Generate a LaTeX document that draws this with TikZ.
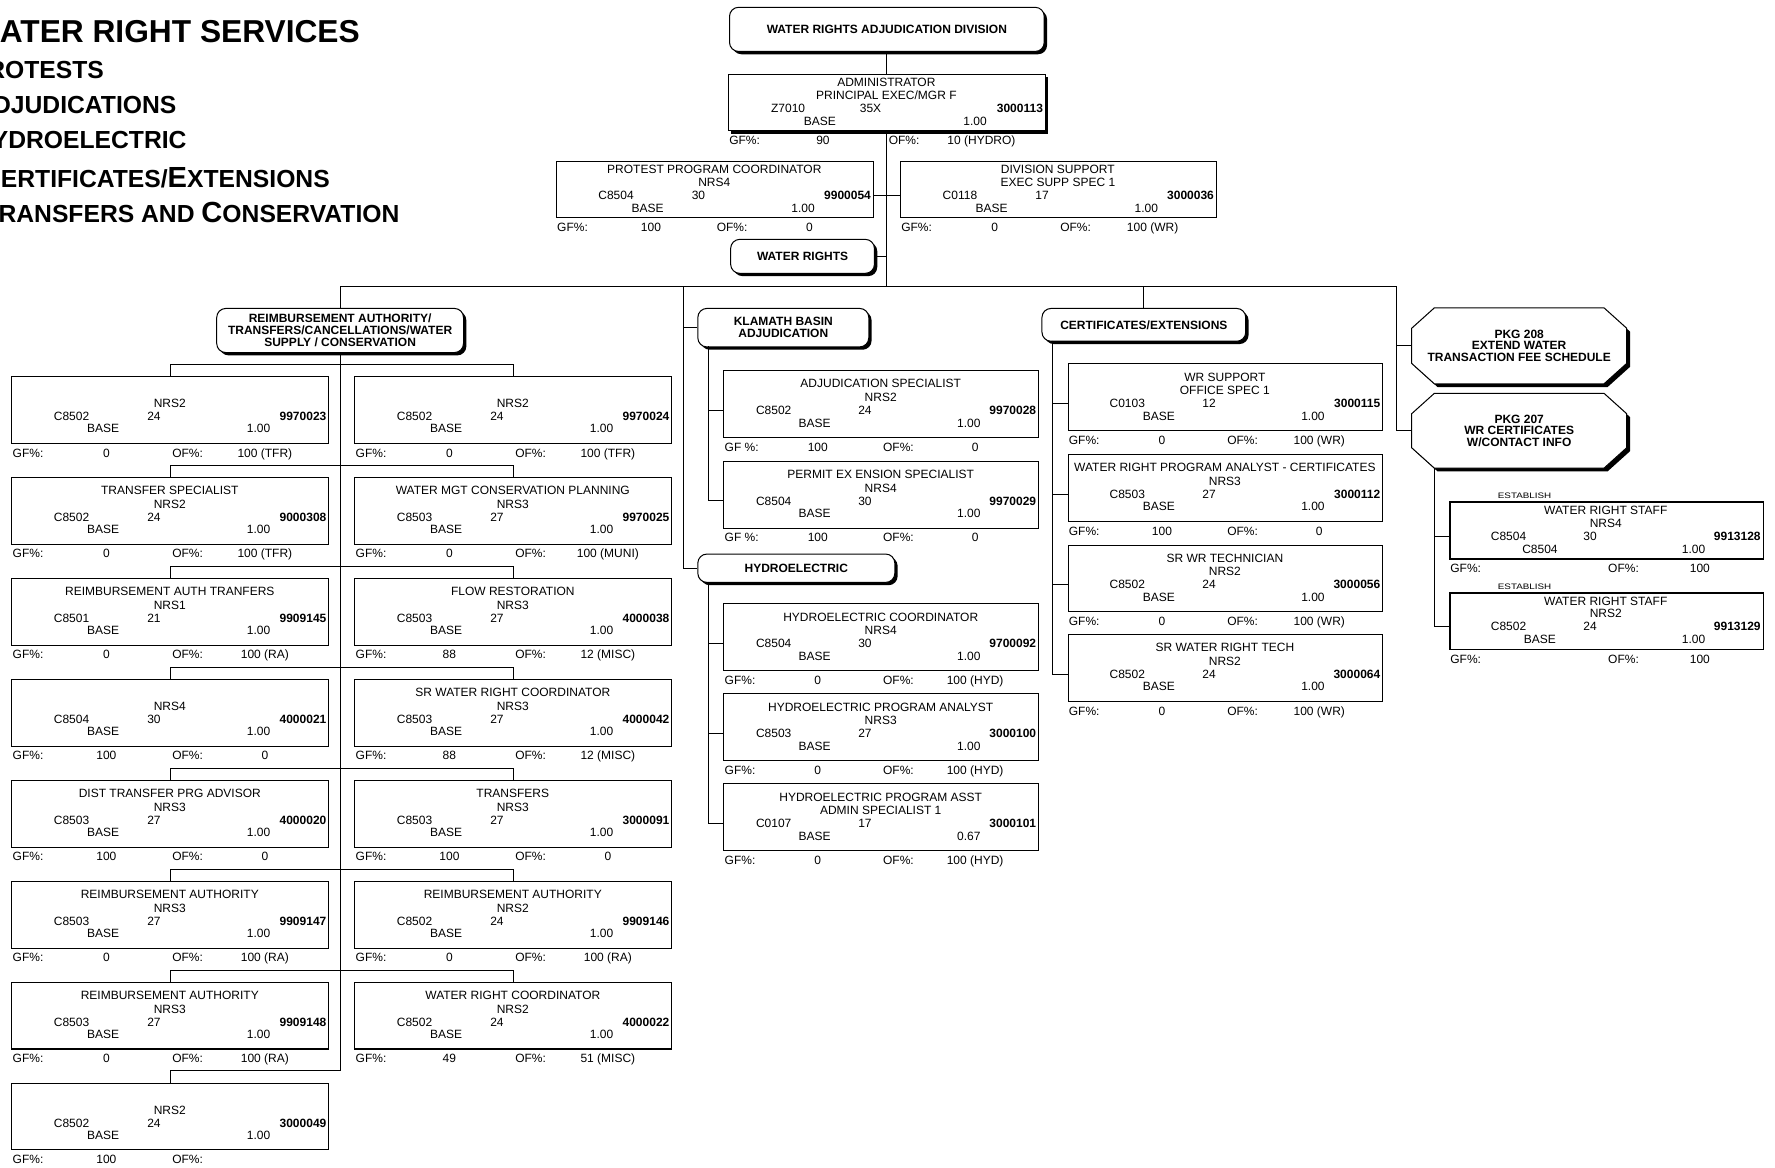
\documentclass[tikz,border=0pt]{standalone}
\usepackage{fontspec}
\setmainfont{Liberation Sans}
\usepackage{graphicx}
\usetikzlibrary{shadows}
\newcommand\tfont{\fontsize{10.6}{10.6}\selectfont}
\newcommand\hfont{\fontsize{10.6}{10.4}\selectfont\bfseries}
\newcommand\bfont{\fontsize{10.6}{10.6}\selectfont\bfseries}
\newcommand\smc[1]{{\fontsize{21.8}{22}\selectfont #1}}
\newcommand\bgc[1]{{\fontsize{25.7}{26}\selectfont #1}}
\def\cf{0.19}
\def\ocx{20}\def\ocy{18}
\newcommand\tallbox{\def\bh{59}\def\la{15.7}\def\lb{27.7}\def\lc{39.2}\def\ld{50.2}\def\lg{71.7}\def\sy{35.5}}
\newcommand\shortbox{\def\bh{50}\def\la{11.7}\def\lb{22.7}\def\lc{34.2}\def\ld{45.7}\def\lg{62.7}\def\sy{30.5}}
\tikzset{
  ln/.style={line width=0.9pt},
  pex/.style={},
  pbox/.style={draw, line width=0.9pt, fill=white, inner sep=0pt, rectangle},
  hdr/.style={draw, line width=0.9pt, fill=white, rounded corners=8pt, inner sep=0pt, align=center, font=\hfont,
    drop shadow={shadow xshift=2.5pt, shadow yshift=-2.5pt, fill=black, opacity=1}},
  txt/.style={inner sep=0pt, font=\tfont},
}
\newcommand\posbox[9]{%
 \xdef\curx{#2}\xdef\cury{#3}\xdef\curw{#4}\xdef\curn{#1}%
 \node[pbox,pex,minimum width=#4pt,minimum height=\bh pt,anchor=north west] (#1) at (#2,#3) {};
 \coordinate (#1-w) at (#2,{#3+\sy});
 \node[txt,anchor=base] (#1-t) at ({#2+0.5*#4},{#3+\la}) {#5};
 \node[txt,anchor=base] (#1-c) at ({#2+0.5*#4},{#3+\lb}) {#6};
 \node[txt,anchor=base] (#1-k) at ({#2+\cf*#4},{#3+\lc}) {#7};
 \node[txt,anchor=base] (#1-g) at ({#2+0.45*#4},{#3+\lc}) {#8};
 \node[txt,anchor=base east,font=\bfont] (#1-n) at ({#2+#4-1.5},{#3+\lc}) {#9};
}
\newcommand\posinfo[5]{%
 \node[txt,anchor=base] (\curn-b) at ({\curx+0.29*\curw},{\cury+\ld}) {#1};
 \node[txt,anchor=base] (\curn-f) at ({\curx+0.78*\curw},{\cury+\ld}) {#2};
 \node[txt,anchor=base west] (\curn-gl) at ({\curx+1},{\cury+\lg}) {#3};
 \node[txt,anchor=base] (\curn-gv) at ({\curx+0.30*\curw},{\cury+\lg}) {#4};
 \node[txt,anchor=base west] (\curn-ol) at ({\curx+0.507*\curw},{\cury+\lg}) {OF\%:};
 \node[txt,anchor=base] (\curn-ov) at ({\curx+0.80*\curw},{\cury+\lg}) {#5};
}
\newcommand\octbox[6]{%
 \fill[shift={(3,3)}] ({#2+\ocx},#3) -- ({#2+#4-\ocx},#3) -- ({#2+#4},{#3+\ocy}) -- ({#2+#4},{#3+#5-\ocy}) -- ({#2+#4-\ocx},{#3+#5}) -- ({#2+\ocx},{#3+#5}) -- (#2,{#3+#5-\ocy}) -- (#2,{#3+\ocy}) -- cycle;
 \filldraw[fill=white,ln] ({#2+\ocx},#3) -- ({#2+#4-\ocx},#3) -- ({#2+#4},{#3+\ocy}) -- ({#2+#4},{#3+#5-\ocy}) -- ({#2+#4-\ocx},{#3+#5}) -- ({#2+\ocx},{#3+#5}) -- (#2,{#3+#5-\ocy}) -- (#2,{#3+\ocy}) -- cycle;
 \node[inner sep=0pt,minimum width=#4pt,minimum height=#5pt,font=\hfont,align=center] (#1) at ({#2+0.5*#4},{#3+0.5*#5}) {#6};
}
\begin{document}
\begin{tikzpicture}[x=1pt,y=-1pt]
\useasboundingbox (0,0) rectangle (1568,1031);
\fill[white] (0,0) rectangle (1568,1031);
\clip (0,0) rectangle (1568,1031);

% title block (cut at the left edge, as in the reference)
\node[inner sep=0pt,anchor=base east,font=\fontsize{28}{28}\selectfont\bfseries] (ttl) at (318,37.4) {W\kern6pt ATER RIGHT SERVICES};
\node[inner sep=0pt,anchor=base east,font=\bfseries] (ti1) at (92,69.2) {\bgc{P}\smc{ROTESTS}};
\node[inner sep=0pt,anchor=base east,font=\bfseries] (ti2) at (156,100.7) {\bgc{A}\smc{DJUDICATIONS}};
\node[inner sep=0pt,anchor=base east,font=\bfseries] (ti3) at (165,131.6) {\bgc{H}\smc{YDROELECTRIC}};
\node[inner sep=0pt,anchor=base east,font=\bfseries] (ti4) at (291.5,165.5) {\bgc{C}\smc{ERTIFICATES/}\bgc{E}\smc{XTENSIONS}};
\node[inner sep=0pt,anchor=base east,font=\bfseries] (ti5) at (353,196.7) {\bgc{T}\smc{RANSFERS AND }\bgc{C}\smc{ONSERVATION}};

% headers
\node[hdr,minimum width=278pt,minimum height=39pt,anchor=north west] (div) at (644,6) {WATER RIGHTS ADJUDICATION DIVISION};
\node[hdr,minimum width=127pt,minimum height=30pt,anchor=north west] (wr) at (645,211) {WATER RIGHTS};
\node[hdr,minimum width=218pt,minimum height=39pt,anchor=north west] (ra) at (191,272) {REIMBURSEMENT AUTHORITY/\\TRANSFERS/CANCELLATIONS/WATER\\SUPPLY / CONSERVATION};
\node[hdr,minimum width=151pt,minimum height=34pt,anchor=north west] (kl) at (616,272) {KLAMATH BASIN\\ADJUDICATION};
\node[hdr,minimum width=174pt,minimum height=25pt,anchor=north west] (hy) at (616,489) {HYDROELECTRIC};
\node[hdr,minimum width=180pt,minimum height=29pt,anchor=north west] (cert) at (920,272) {CERTIFICATES/EXTENSIONS};

% top positions
\shortbox
\tikzset{pex/.style={drop shadow={shadow xshift=2.5pt,shadow yshift=-2.5pt,fill=black,opacity=1}}}
\posbox{admin}{643}{65}{280}{ADMINISTRATOR}{PRINCIPAL EXEC/MGR F}{Z7010}{35X}{3000113}
\posinfo{BASE}{1.00}{GF\%:}{90}{10 (HYDRO)}
\tikzset{pex/.style={}}
\posbox{protest}{491}{142}{280}{PROTEST PROGRAM COORDINATOR}{NRS4}{C8504}{30}{9900054}
\posinfo{BASE}{1.00}{GF\%:}{100}{0}
\posbox{divsup}{795}{142}{279}{DIVISION SUPPORT}{EXEC SUPP SPEC 1}{C0118}{17}{3000036}
\posinfo{BASE}{1.00}{GF\%:}{0}{100 (WR)}

% left column
\tallbox
\posbox{l1}{10}{332}{280}{}{NRS2}{C8502}{24}{9970023}\posinfo{BASE}{1.00}{GF\%:}{0}{100 (TFR)}
\posbox{r1}{313}{332}{280}{}{NRS2}{C8502}{24}{9970024}\posinfo{BASE}{1.00}{GF\%:}{0}{100 (TFR)}
\posbox{l2}{10}{421.2}{280}{TRANSFER SPECIALIST}{NRS2}{C8502}{24}{9000308}\posinfo{BASE}{1.00}{GF\%:}{0}{100 (TFR)}
\posbox{r2}{313}{421.2}{280}{WATER MGT CONSERVATION PLANNING}{NRS3}{C8503}{27}{9970025}\posinfo{BASE}{1.00}{GF\%:}{0}{100 (MUNI)}
\posbox{l3}{10}{510.4}{280}{REIMBURSEMENT AUTH TRANFERS}{NRS1}{C8501}{21}{9909145}\posinfo{BASE}{1.00}{GF\%:}{0}{100 (RA)}
\posbox{r3}{313}{510.4}{280}{FLOW RESTORATION}{NRS3}{C8503}{27}{4000038}\posinfo{BASE}{1.00}{GF\%:}{88}{12 (MISC)}
\posbox{l4}{10}{599.6}{280}{}{NRS4}{C8504}{30}{4000021}\posinfo{BASE}{1.00}{GF\%:}{100}{0}
\posbox{r4}{313}{599.6}{280}{SR WATER RIGHT COORDINATOR}{NRS3}{C8503}{27}{4000042}\posinfo{BASE}{1.00}{GF\%:}{88}{12 (MISC)}
\posbox{l5}{10}{688.8}{280}{DIST TRANSFER PRG ADVISOR}{NRS3}{C8503}{27}{4000020}\posinfo{BASE}{1.00}{GF\%:}{100}{0}
\posbox{r5}{313}{688.8}{280}{TRANSFERS}{NRS3}{C8503}{27}{3000091}\posinfo{BASE}{1.00}{GF\%:}{100}{0}
\posbox{l6}{10}{778}{280}{REIMBURSEMENT AUTHORITY}{NRS3}{C8503}{27}{9909147}\posinfo{BASE}{1.00}{GF\%:}{0}{100 (RA)}
\posbox{r6}{313}{778}{280}{REIMBURSEMENT AUTHORITY}{NRS2}{C8502}{24}{9909146}\posinfo{BASE}{1.00}{GF\%:}{0}{100 (RA)}
\posbox{l7}{10}{867.2}{280}{REIMBURSEMENT AUTHORITY}{NRS3}{C8503}{27}{9909148}\posinfo{BASE}{1.00}{GF\%:}{0}{100 (RA)}
\posbox{r7}{313}{867.2}{280}{WATER RIGHT COORDINATOR}{NRS2}{C8502}{24}{4000022}\posinfo{BASE}{1.00}{GF\%:}{49}{51 (MISC)}
\posbox{l8}{10}{956.4}{280}{}{NRS2}{C8502}{24}{3000049}\posinfo{BASE}{1.00}{GF\%:}{100}{}

% middle column
\def\cf{0.16}
\posbox{adj}{639}{327}{278}{ADJUDICATION SPECIALIST}{NRS2}{C8502}{24}{9970028}\posinfo{BASE}{1.00}{GF \%:}{100}{0}
\posbox{permit}{639}{407}{278}{PERMIT EX ENSION SPECIALIST}{NRS4}{C8504}{30}{9970029}\posinfo{BASE}{1.00}{GF \%:}{100}{0}
\posbox{hc}{639}{533}{278}{HYDROELECTRIC COORDINATOR}{NRS4}{C8504}{30}{9700092}\posinfo{BASE}{1.00}{GF\%:}{0}{100 (HYD)}
\posbox{hpa}{639}{612.5}{278}{HYDROELECTRIC PROGRAM ANALYST}{NRS3}{C8503}{27}{3000100}\posinfo{BASE}{1.00}{GF\%:}{0}{100 (HYD)}
\posbox{hpas}{639}{692}{278}{HYDROELECTRIC PROGRAM ASST}{ADMIN SPECIALIST 1}{C0107}{17}{3000101}\posinfo{BASE}{0.67}{GF\%:}{0}{100 (HYD)}

% certificates column
\def\cf{0.19}
\posbox{wrs}{943}{321}{278}{WR SUPPORT}{OFFICE SPEC 1}{C0103}{12}{3000115}\posinfo{BASE}{1.00}{GF\%:}{0}{100 (WR)}
\posbox{wrpa}{943}{401}{278}{WATER RIGHT PROGRAM ANALYST - CERTIFICATES}{NRS3}{C8503}{27}{3000112}\posinfo{BASE}{1.00}{GF\%:}{100}{0}
\posbox{srt}{943}{481}{278}{SR WR TECHNICIAN}{NRS2}{C8502}{24}{3000056}\posinfo{BASE}{1.00}{GF\%:}{0}{100 (WR)}
\posbox{srwt}{943}{560}{278}{SR WATER RIGHT TECH}{NRS2}{C8502}{24}{3000064}\posinfo{BASE}{1.00}{GF\%:}{0}{100 (WR)}

% packages
\octbox{pkgA}{1247}{272}{190}{67}{PKG 208\\EXTEND WATER\\TRANSACTION FEE SCHEDULE}
\octbox{pkgB}{1247}{347.5}{190}{66}{PKG 207\\WR CERTIFICATES\\W/CONTACT INFO}

% right column
\shortbox
\tikzset{pex/.style={line width=1.6pt}}
\node[inner sep=0pt,anchor=base west,font=\fontsize{7}{7}\selectfont] (est1) at (1323,440.3) {\scalebox{1.24}[1]{ESTABLISH}};
\posbox{st1}{1280}{443}{277}{WATER RIGHT STAFF}{NRS4}{C8504}{30}{9913128}\posinfo{C8504}{1.00}{GF\%:}{}{100}
\node[inner sep=0pt,anchor=base west,font=\fontsize{7}{7}\selectfont] (est2) at (1323,520.5) {\scalebox{1.24}[1]{ESTABLISH}};
\posbox{st2}{1280}{523}{277}{WATER RIGHT STAFF}{NRS2}{C8502}{24}{9913129}\posinfo{BASE}{1.00}{GF\%:}{}{100}

% connectors
\coordinate (bus) at (0,253);
\coordinate (rb) at (1234,253);
\draw[ln] (div.south) -- (admin.north);
\draw[ln] (admin.south) -- (admin.south |- bus);
\draw[ln] (protest-w -| protest.east) -- (divsup-w);
\draw[ln] (wr.east) -- (wr.east -| admin.south);
\draw[ln] (ra.north |- bus) -- (rb);
\draw[ln] (ra.north |- bus) -- (ra.north);
\coordinate (spEnd) at (300,945.5);
\draw[ln] (ra.south) -- (ra.south |- spEnd) -| (l8.north);
\foreach \i in {1,...,7} {\draw[ln] (l\i.north) -- ++(0,-10.2) -| (r\i.north);}
\coordinate (mx) at (604,253);
\draw[ln] (mx) |- (hy.west);
\draw[ln] (kl.west -| mx) -- (kl.west);
\coordinate (kls) at (626,306);
\draw[ln] (kls) |- (permit-w);
\draw[ln] (adj-w -| kls) -- (adj-w);
\coordinate (hys) at (626,514);
\draw[ln] (hys) |- (hpas-w);
\draw[ln] (hc-w -| hys) -- (hc-w);
\draw[ln] (hpa-w -| hys) -- (hpa-w);
\draw[ln] (cert.north |- bus) -- (cert.north);
\coordinate (cs) at (930,301);
\draw[ln] (cs) |- (srwt-w);
\draw[ln] (wrs-w -| cs) -- (wrs-w);
\draw[ln] (wrpa-w -| cs) -- (wrpa-w);
\draw[ln] (srt-w -| cs) -- (srt-w);
\draw[ln] (rb) |- (pkgB.west);
\draw[ln] (pkgA.west -| rb) -- (pkgA.west);
\coordinate (ss) at (1267,413.5);
\draw[ln] (ss) |- (st2-w);
\draw[ln] (st1-w -| ss) -- (st1-w);
\end{tikzpicture}
\end{document}
